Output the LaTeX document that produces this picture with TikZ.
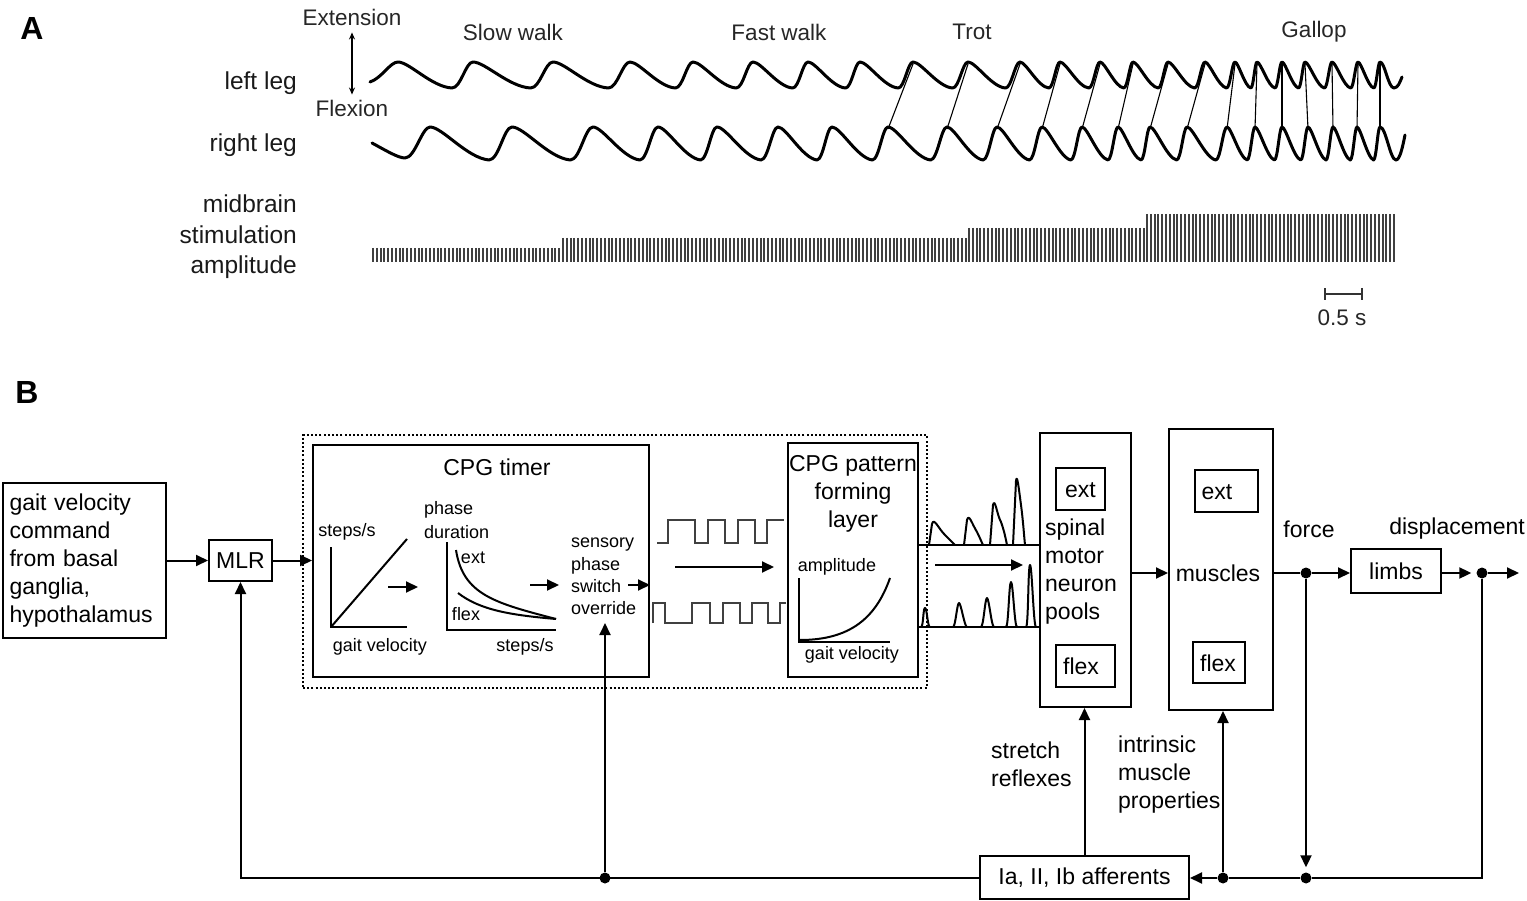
\documentclass[tikz,border=0pt]{standalone}
\usepackage{fontspec}
\setmainfont{Liberation Sans}
\usetikzlibrary{arrows.meta}
\begin{document}
\tikzset{
 box/.style={draw, line width=2pt, rectangle, inner sep=0pt},
 ln/.style={line width=2pt},
 arr/.style={line width=2pt, -{Triangle[length=12pt,width=11pt]}},
 big/.style={font=\fontsize{23}{28}\selectfont, inner sep=0pt},
 small/.style={font=\fontsize{18}{22.4}\selectfont, inner sep=0pt},
 alab/.style={font=\fontsize{22.5}{30.5}\selectfont, inner sep=0pt, text=black!85},
 rowlab/.style={font=\fontsize{24.5}{30.5}\selectfont, inner sep=0pt, text=black!90},
 panel/.style={font=\fontsize{32}{36}\selectfont\bfseries, inner sep=0pt},
 dot/.style={circle, fill, inner sep=0pt, minimum size=11pt},
 wave/.style={line width=3pt, line join=round, line cap=round},
 thinl/.style={line width=1.1pt},
 barl/.style={line width=1.9pt, black!75},
 sq/.style={line width=2pt, black!75},
 pl/.style={line width=2pt, line join=round},
}
\begin{tikzpicture}[x=1pt,y=-1pt]
\useasboundingbox (0,0) rectangle (1527,901);

% ---------------- Panel A ----------------
\node[panel] (lblA) at (32,28) {A};
\node[alab] (extn) at (352,17) {Extension};
\node[alab] (flxn) at (352,108) {Flexion};
\draw[line width=1.3pt, {Stealth[length=7pt,width=6pt]}-{Stealth[length=7pt,width=6pt]}, shorten <=7pt, shorten >=5pt] (extn.south) -- (flxn.north);
\node[rowlab, anchor=east] (lleg) at (297,83) {left leg};
\node[rowlab, anchor=east] (rleg) at (297,145) {right leg};
\node[rowlab, anchor=east, align=right] (stim) at (297,237) {midbrain\\stimulation\\amplitude};
\node[alab] (slow) at (513,32) {Slow walk};
\node[alab] (fast) at (779,32) {Fast walk};
\node[alab] (trot) at (972,32) {Trot};
\node[alab] (gall) at (1314,32) {Gallop};

% left leg
\draw[wave] (370,82) .. controls (382,78) and (390,62) .. (398,62)
 \foreach \p/\q in {398/473, 473/553, 553/630, 630/693, 693/753, 753/808, 808/860, 860/913, 913/968, 968/1020, 1020/1060, 1060/1100, 1100/1133, 1133/1168, 1168/1205, 1205/1235, 1235/1257, 1257/1282, 1282/1305, 1305/1332, 1332/1358, 1358/1380}
 { .. controls ({\p+0.15*(\q-\p)},62) and ({\p+0.45*(\q-\p)},87) .. ({\p+0.72*(\q-\p)},88) .. controls ({\p+0.84*(\q-\p)},88) and ({\p+0.9*(\q-\p)},62) .. (\q,62) }
 .. controls (1385,62) and (1388,88) .. (1394,88) .. controls (1398,88) and (1400,82) .. (1402,77);
% right leg
\draw[wave] (372,143) .. controls (385,150) and (398,158) .. (405,158) .. controls (415,158) and (422,127) .. (430,127)
 \foreach \p/\q in {430/512, 512/593, 593/658, 658/717, 717/778, 778/832, 832/888, 888/947, 947/997, 997/1042, 1042/1082, 1082/1118, 1118/1150, 1150/1187, 1187/1227, 1227/1255, 1255/1282, 1282/1308, 1308/1333, 1333/1357, 1357/1380}
 { .. controls ({\p+0.15*(\q-\p)},127) and ({\p+0.45*(\q-\p)},158) .. ({\p+0.72*(\q-\p)},160) .. controls ({\p+0.84*(\q-\p)},160) and ({\p+0.9*(\q-\p)},127) .. (\q,127) }
 .. controls (1386,127) and (1390,160) .. (1396,160) .. controls (1400,160) and (1403,145) .. (1405,135);
% phase lines
\foreach \r/\l in {888/913, 947/968, 997/1020, 1042/1060, 1082/1100, 1118/1133, 1150/1168, 1187/1205, 1227/1235, 1255/1257, 1282/1282, 1308/1305, 1333/1332, 1357/1358, 1380/1380}
 \draw[thinl] (\r,129) -- (\l,64);

% stimulation bars
\foreach \x in {373,376.8,...,561} \draw[barl] (\x,248) -- (\x,262);
\foreach \x in {563,566.8,...,966} \draw[barl] (\x,238) -- (\x,262);
\foreach \x in {969,972.8,...,1145} \draw[barl] (\x,228) -- (\x,262);
\foreach \x in {1147,1150.8,...,1395} \draw[barl] (\x,214) -- (\x,262);

% scale bar
\coordinate (sb1) at (1324,294);
\coordinate (sb2) at (1363,294);
\draw[line width=2pt, black!80, {Bar[width=12pt]}-{Bar[width=12pt]}] (sb1) -- (sb2);
\node[alab] (sblab) at (1342,318) {0.5 s};

% ---------------- Panel B ----------------
\node[panel] (lblB) at (27,392) {B};

\node[box, big, minimum width=163pt, minimum height=155pt, text width=150pt, align=left] (gvc) at (84.5,560.5) {gait velocity\\command\\from basal\\ganglia,\\hypothalamus};
\node[box, big, minimum width=63pt, minimum height=41pt] (mlr) at (240.5,560.5) {MLR};
\draw[arr] (gvc.east) -- (mlr.west);

\node[draw, line width=2pt, dash pattern=on 2pt off 2.2pt, minimum width=624pt, minimum height=253pt, inner sep=0pt] (dotbox) at (615,561.5) {};
\node[box, minimum width=336pt, minimum height=232pt] (timer) at (481,561) {};
\draw[arr] (mlr.east) -- (mlr.east -| timer.west);
\node[big] (timert) at (497,467) {CPG timer};

% graph 1
\coordinate (g1y) at (331,547);
\coordinate (g1o) at (331,627);
\coordinate (g1x) at (407,627);
\coordinate (g1d) at (407,539);
\draw[ln] (g1y) -- (g1o) -- (g1x);
\draw[ln] (g1o) -- (g1d);
\node[small] (g1yl) at (347,532) {steps/s};
\node[small] (g1xl) at (380,647) {gait velocity};
\coordinate (a1s) at (388,587);
\coordinate (a1e) at (418,587);
\draw[arr] (a1s) -- (a1e);

% graph 2
\coordinate (g2y) at (447,542);
\coordinate (g2o) at (447,630);
\coordinate (g2x) at (556,630);
\draw[ln] (g2y) -- (g2o) -- (g2x);
\draw[ln] (456,550) .. controls (463,595) and (495,603) .. (556,619);
\draw[ln] (458,593) .. controls (480,610) and (510,615) .. (556,619);
\node[small, anchor=west] (ph1) at (424,510) {phase};
\node[small, anchor=west] (ph2) at (424,532) {duration};
\node[small] (extl) at (473,558) {ext};
\node[small] (flxl) at (466,614) {flex};
\node[small] (g2xl) at (525,647) {steps/s};
\coordinate (a2s) at (530,585);
\coordinate (a2e) at (559,585);
\draw[arr] (a2s) -- (a2e);

\node[small, anchor=west, align=left] (sens) at (571,576.5) {sensory\\phase\\switch\\override};
\coordinate (a3s) at (628,585);
\draw[arr] (a3s) -- (a3s -| timer.east);

% square waves
\draw[sq] (657,543) -- (668,543) -- (668,520) -- (695,520) -- (695,543) -- (708,543) -- (708,520) -- (725,520) -- (725,543) -- (738,543) -- (738,520) -- (755,520) -- (755,543) -- (767,543) -- (767,520) -- (784,520);
\draw[sq] (653,623) -- (653,603) -- (665,603) -- (665,623) -- (692,623) -- (692,603) -- (710,603) -- (710,623) -- (723,623) -- (723,603) -- (740,603) -- (740,623) -- (752,623) -- (752,603) -- (768,603) -- (768,623) -- (780,623) -- (780,603) -- (786,603);
\coordinate (a4s) at (675,567);
\coordinate (a4e) at (774,567);
\draw[arr] (a4s) -- (a4e);

% CPG pattern forming layer
\node[box, minimum width=130pt, minimum height=234pt] (patt) at (853,560) {};
\node[big, align=center] (pattt) at (853,494) {CPG pattern\\forming\\layer};
\node[small] (ampl) at (837,567) {amplitude};
\coordinate (g3y) at (799,578);
\coordinate (g3o) at (799,642);
\coordinate (g3x) at (890,642);
\draw[ln] (g3y) -- (g3o) -- (g3x);
\draw[ln] (800,640) .. controls (850,640) and (876,618) .. (890,578);
\node[small] (g3xl) at (852,655) {gait velocity};

% motor output pulses
\coordinate (ub1) at (918,545);
\coordinate (lb1) at (918,627);
\draw[pl] (929,545) -- (932,524) .. controls (934,517) and (938,528) .. (945,535) .. controls (950,540) and (952,542) .. (955,545);
\draw[pl] (964,545) -- (967,520) .. controls (969,513) and (972,524) .. (977,532) .. controls (980,538) and (982,543) .. (983,545);
\draw[pl] (990,545) -- (993,505) .. controls (995,497) and (997,515) .. (1001,522) .. controls (1004,530) and (1006,540) .. (1007,545);
\draw[pl] (1013,545) -- (1016,481) .. controls (1017,472) and (1019,490) .. (1021,505) .. controls (1023,520) and (1024,535) .. (1025,545);
\foreach \a/\m/\c/\h in {921/925/930/608, 953/959/967/603, 981/987/994/598, 1006/1011/1017/582, 1026/1030/1036/565}
 \draw[pl] (\a,627) .. controls ({\a+2.5},627) and ({\m-2},\h) .. (\m,\h) .. controls ({\m+2},\h) and ({\c-2.5},627) .. (\c,627);
\coordinate (a5s) at (935,565);
\coordinate (a5e) at (1023,565);
\draw[arr] (a5s) -- (a5e);

% spinal motor neuron pools
\node[box, minimum width=91pt, minimum height=274pt] (spin) at (1085.5,570) {};
\draw[pl] (ub1) -- (ub1 -| spin.west);
\draw[pl] (lb1) -- (lb1 -| spin.west);
\node[box, minimum width=49pt, minimum height=42pt] (sext) at (1080.5,489) {};
\node[big] (sextt) at (1080.5,490) {ext};
\node[box, minimum width=59pt, minimum height=42pt] (sflx) at (1085.5,666) {};
\node[big] (sflxt) at (1081,666) {flex};
\node[big, anchor=west, align=left] (spint) at (1045,572) {spinal\\motor\\neuron\\pools};

% muscles
\node[box, minimum width=104pt, minimum height=281pt] (musc) at (1221,569.5) {};
\coordinate (a6s) at (1131,573);
\draw[arr] (a6s) -- (a6s -| musc.west);
\node[box, minimum width=63pt, minimum height=42pt] (mext) at (1226.5,491) {};
\node[big] (mextt) at (1217,492) {ext};
\node[box, minimum width=52pt, minimum height=41pt] (mflx) at (1219,662.5) {};
\node[big] (mflxt) at (1218,663) {flex};
\node[big] (musct) at (1218,573) {muscles};

% force / limbs / displacement
\node[dot] (fdot) at (1306,573) {};
\coordinate (mout) at (1273,573);
\draw[ln] (mout) -- (fdot);
\node[box, big, minimum width=90pt, minimum height=44pt] (limbs) at (1396,571) {limbs};
\draw[arr] (fdot) -- (fdot -| limbs.west);
\node[big] (forcel) at (1309,529) {force};
\node[big] (displ) at (1457,529) {displacement};
\node[dot] (ddot) at (1482,573) {};
\draw[arr, shorten >=5pt] (limbs.east |- ddot) -- (ddot);
\coordinate (dend) at (1519,573);
\draw[arr] (ddot) -- (dend);

% afferent feedback
\node[box, big, minimum width=209pt, minimum height=43pt] (aff) at (1084.5,877.5) {Ia, II, Ib afferents};
\node[dot] (dot2) at (1306,878) {};
\node[dot] (dot1) at (1223,878) {};
\node[dot] (dot0) at (605,878) {};
\draw[arr, shorten >=5pt] (fdot) -- (dot2);
\draw[ln] (ddot) -- (ddot |- dot2) -- (dot2);
\draw[ln] (dot2) -- (dot1);
\draw[arr] (dot1) -- (dot1 -| aff.east);
\draw[arr] (dot1) -- (dot1 |- musc.south);
\draw[arr] (aff.north) -- (aff.north |- spin.south);
\draw[arr] (aff.west |- dot0) -- (mlr.south |- dot0) -- (mlr.south);
\coordinate (ovr) at (605,623);
\draw[arr] (dot0) -- (ovr);
\node[big, anchor=west, align=left] (strl) at (991,764) {stretch\\reflexes};
\node[big, anchor=west, align=left] (intl) at (1118,774.5) {intrinsic\\muscle\\properties};
\end{tikzpicture}
\end{document}
